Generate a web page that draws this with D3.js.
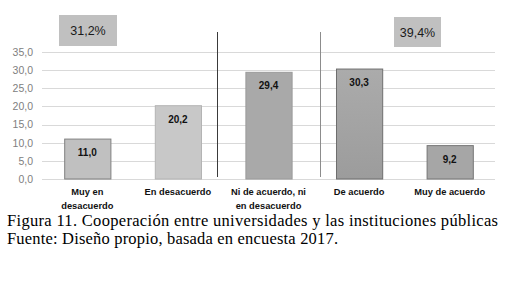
<!DOCTYPE html>
<html lang="es">
<head>
<meta charset="UTF-8">
<title>Figura 11</title>
<style>
  body, html { margin: 0; padding: 0; background: #fff; }
  svg { display: block; }
  .tick text { font-family: "Liberation Sans", Arial, sans-serif; }
</style>
</head>
<body>
<div id="chart"></div>
<script src="https://d3js.org/d3.v7.min.js"></script>
<script>
// data
const categories = ["Muy en desacuerdo", "En desacuerdo", "Ni de acuerdo, ni en desacuerdo", "De acuerdo", "Muy de acuerdo"];
const labelLines = [["Muy en", "desacuerdo"], ["En desacuerdo"], ["Ni de acuerdo, ni", "en desacuerdo"], ["De acuerdo"], ["Muy de acuerdo"]];
const values = [11.0, 20.2, 29.4, 30.3, 9.2];
const yTicks = [0, 5, 10, 15, 20, 25, 30, 35];
const groupTotals = ["31,2%", "39,4%"];
const caption = [
  "Figura 11. Cooperación entre universidades y las instituciones públicas",
  "Fuente: Diseño propio, basada en encuesta 2017."
];

const W = 519, H = 283;
const margin = { left: 42, right: 24, top: 52, bottom: 104 };
const fmt = v => v.toFixed(1).replace(".", ",");

const svg = d3.select("#chart").append("svg")
  .attr("width", W).attr("height", H);
svg.append("rect").attr("width", W).attr("height", H).attr("fill", "#fff");

const x = d3.scaleBand()
  .domain(categories)
  .range([margin.left, W - margin.right])
  .paddingInner(0.49).paddingOuter(0.245);

const y = d3.scaleLinear()
  .domain([0, 35])
  .range([H - margin.bottom, margin.top]);

// grid
svg.append("g")
  .selectAll("line")
  .data(yTicks)
  .join("line")
  .attr("x1", margin.left).attr("x2", W - margin.right)
  .attr("y1", d => Math.round(y(d)) + 0.5).attr("y2", d => Math.round(y(d)) + 0.5)
  .attr("stroke", "#d9d9d9").attr("stroke-width", 1);

// y axis labels
const yAxis = svg.append("g")
  .attr("transform", `translate(${margin.left - 9},0)`)
  .call(d3.axisLeft(y).tickValues(yTicks).tickFormat(fmt).tickSize(0).tickPadding(0));
yAxis.select(".domain").remove();
yAxis.selectAll("text").attr("fill", "#808080").attr("font-size", 10.5);

// dividers
const step = x.step();
const dividers = [x(categories[2]) - x.paddingOuter() * step + 0.43 * step - 0.5 * step, x(categories[3]) - x.paddingOuter() * step + 0.07 * step];
svg.append("g")
  .selectAll("line")
  .data(dividers)
  .join("line")
  .attr("x1", d => Math.round(d) + 0.5).attr("x2", d => Math.round(d) + 0.5)
  .attr("y1", 32).attr("y2", y(0) - 2)
  .attr("stroke", (d, i) => i === 0 ? "#3a3a3a" : "#8c8c8c")
  .attr("stroke-width", 1);

// gradient for darker bar
const defs = svg.append("defs");
const grad = defs.append("linearGradient").attr("id", "g4").attr("x1", 0).attr("x2", 0).attr("y1", 0).attr("y2", 1);
grad.append("stop").attr("offset", "0%").attr("stop-color", "#ababab");
grad.append("stop").attr("offset", "100%").attr("stop-color", "#9c9c9c");

const fills = ["#c0c0c0", "#c8c8c8", "#a9a9a9", "url(#g4)", "#a6a6a6"];
const strokes = ["#808080", "#b4b4b4", "#9a9a9a", "#6e6e6e", "#767676"];

svg.append("g")
  .selectAll("rect")
  .data(values)
  .join("rect")
  .attr("x", (d, i) => x(categories[i]) + 0.5)
  .attr("y", d => y(d))
  .attr("width", x.bandwidth())
  .attr("height", d => y(0) - y(d))
  .attr("fill", (d, i) => fills[i])
  .attr("stroke", (d, i) => strokes[i])
  .attr("stroke-width", 1);

// value labels
svg.append("g")
  .selectAll("text")
  .data(values)
  .join("text")
  .attr("x", (d, i) => x(categories[i]) + x.bandwidth() / 2)
  .attr("y", d => y(d) + 17)
  .attr("text-anchor", "middle")
  .attr("font-family", "'Liberation Sans', Arial, sans-serif")
  .attr("font-weight", "bold")
  .attr("font-size", 10)
  .attr("fill", "#111")
  .text(fmt);

// category labels
const cat = svg.append("g")
  .selectAll("text")
  .data(categories)
  .join("text")
  .attr("x", d => x(d) + x.bandwidth() / 2)
  .attr("y", 195)
  .attr("text-anchor", "middle")
  .attr("font-family", "'Liberation Sans', Arial, sans-serif")
  .attr("font-weight", "bold")
  .attr("font-size", 9.3)
  .attr("fill", "#111");
cat.selectAll("tspan")
  .data((d, i) => labelLines[i])
  .join("tspan")
  .attr("x", function () { return d3.select(this.parentNode).attr("x"); })
  .attr("dy", (d, i) => i === 0 ? 0 : 13.5)
  .text(d => d);

// group total boxes
const boxes = [
  { x: 59, y: 15, w: 58, h: 31 },
  { x: 394, y: 17, w: 47, h: 30 }
];
const bx = svg.append("g")
  .selectAll("g")
  .data(groupTotals)
  .join("g");
bx.append("rect")
  .attr("x", (d, i) => boxes[i].x).attr("y", (d, i) => boxes[i].y)
  .attr("width", (d, i) => boxes[i].w).attr("height", (d, i) => boxes[i].h)
  .attr("fill", "#c0c0c0");
bx.append("text")
  .attr("x", (d, i) => boxes[i].x + boxes[i].w / 2)
  .attr("y", (d, i) => boxes[i].y + boxes[i].h / 2 + 4.5)
  .attr("text-anchor", "middle")
  .attr("font-family", "'Liberation Sans', Arial, sans-serif")
  .attr("font-size", 12.5)
  .attr("fill", "#1a1a1a")
  .text(d => d);

// caption
const capWidths = [491, 331];
svg.append("g")
  .selectAll("text")
  .data(caption)
  .join("text")
  .attr("x", 7)
  .attr("y", (d, i) => 226 + i * 17.5)
  .attr("font-family", "'Liberation Serif', 'Times New Roman', serif")
  .attr("font-size", 16.5)
  .attr("fill", "#000")
  .attr("textLength", (d, i) => capWidths[i])
  .attr("lengthAdjust", "spacing")
  .text(d => d);
</script>
</body>
</html>
